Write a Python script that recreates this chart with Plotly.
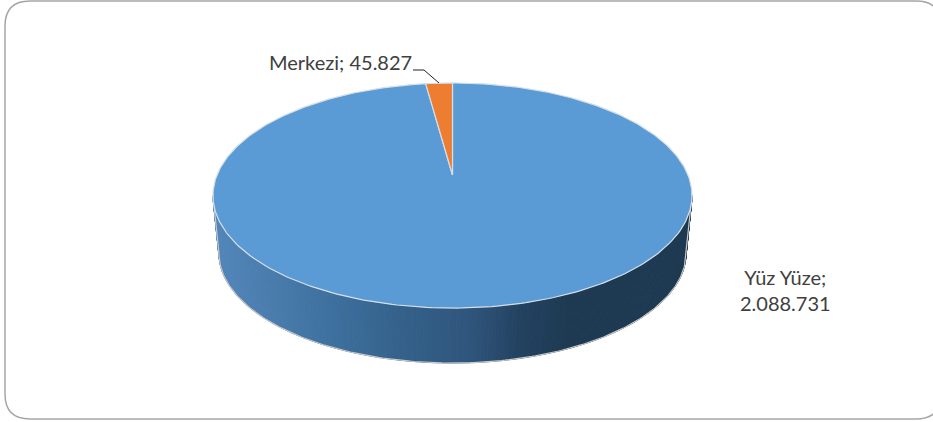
import math
import plotly.graph_objects as go

# Data
categories = ["Yüz Yüze", "Merkezi"]
values = [2088731, 45827]
colors = ["#5b9bd5", "#ed7d31"]

# Perspective disc drawn in a pixel-scaled plot area
CX, CY, A, B, K = 452.5, 175.0, 235.5, 108.8, 0.1823
BOTTOM_SCALE, BOTTOM_CY = 0.975, 233.3


def project(theta, scale=1.0, cy=CY):
    u, v = math.sin(theta), math.cos(theta)
    d = 1 + K * v
    return CX + scale * A * u / d, cy - scale * B * v / d


def fmt(n):
    return f"{n:,}".replace(",", ".")


total = sum(values)
angles = [0.0]
for val in values:
    angles.append(angles[-1] + 2 * math.pi * val / total)

stops = [(213, (84, 135, 186)), (330, (62, 112, 158)), (400, (52, 97, 138)),
         (470, (47, 85, 124)), (520, (35, 66, 96)), (570, (30, 58, 82)),
         (692, (30, 58, 82))]


def side_color(x):
    for (x0, c0), (x1, c1) in zip(stops, stops[1:]):
        if x <= x1:
            t = max(0.0, (x - x0) / (x1 - x0))
            return "rgb(%d,%d,%d)" % tuple(round(a + (b - a) * t) for a, b in zip(c0, c1))
    return "rgb(30,58,82)"


fig = go.Figure()

# Side wall of the large slice, as thin coloured quads between the two silhouette tangents
n = 220
t0 = math.acos(-K)
t1 = 2 * math.pi - t0
outline_x, outline_y = [], []
for i in range(n):
    a0 = t0 + (t1 - t0) * i / n
    a1 = t0 + (t1 - t0) * (i + 1) / n
    p = [project(a0), project(a1), project(a1, BOTTOM_SCALE, BOTTOM_CY), project(a0, BOTTOM_SCALE, BOTTOM_CY)]
    xs = [q[0] for q in p] + [p[0][0]]
    ys = [q[1] for q in p] + [p[0][1]]
    c = side_color((p[0][0] + p[1][0]) / 2)
    fig.add_trace(go.Scatter(x=xs, y=ys, mode="lines", fill="toself", fillcolor=c,
                             line=dict(color=c, width=1), hoverinfo="skip", showlegend=False))
q0 = project(t0)
q1 = project(t1)
outline_x.append(q0[0])
outline_y.append(q0[1])
for i in range(n + 1):
    q = project(t0 + (t1 - t0) * i / n, BOTTOM_SCALE, BOTTOM_CY)
    outline_x.append(q[0])
    outline_y.append(q[1])
outline_x.append(q1[0])
outline_y.append(q1[1])
fig.add_trace(go.Scatter(x=outline_x, y=outline_y, mode="lines",
                         line=dict(color="#c9c9c9", width=1.2), hoverinfo="skip", showlegend=False))

# Top faces of the slices
for i, (name, col) in enumerate(zip(categories, colors)):
    a0, a1 = angles[i], angles[i + 1]
    steps = max(4, int((a1 - a0) / (2 * math.pi) * 360))
    pts = [project(a0 + (a1 - a0) * j / steps) for j in range(steps + 1)]
    xs = [CX] + [q[0] for q in pts] + [CX]
    ys = [CY] + [q[1] for q in pts] + [CY]
    fig.add_trace(go.Scatter(x=xs, y=ys, mode="lines", fill="toself", fillcolor=col,
                             line=dict(color="#d5dfe9", width=1.2), name=name,
                             hoverinfo="skip", showlegend=False))

# Labels
fig.add_annotation(x=340, y=61.5, xref="x", yref="y", showarrow=False,
                   text=f"{categories[1]}; {fmt(values[1])}",
                   font=dict(family="Lato", size=20, color="#404040"))
fig.add_annotation(x=785, y=290, xref="x", yref="y", showarrow=False, align="center",
                   text=f"{categories[0]};<br>{fmt(values[0])}",
                   font=dict(family="Lato", size=20, color="#404040"))

# Leader line and rounded frame
fig.add_shape(type="path", path="M 413 70 L 424 70 L 439 83", line=dict(color="#222222", width=1))
fig.add_shape(type="path",
              path="M 30 1 L 916 1 Q 941 1 941 26 L 941 394 Q 941 419 916 419 L 30 419 Q 5 419 5 394 L 5 26 Q 5 1 30 1 Z",
              line=dict(color="#a6a6a6", width=1.5))

fig.update_layout(width=933, height=422, margin=dict(l=0, r=0, t=0, b=0),
                  paper_bgcolor="white", plot_bgcolor="white", showlegend=False,
                  xaxis=dict(range=[0, 933], visible=False, fixedrange=True),
                  yaxis=dict(range=[422, 0], visible=False, fixedrange=True))
fig.write_html("out.html", config={"displayModeBar": False},
               post_script="document.body.style.margin='0';document.documentElement.style.overflow='hidden';")
